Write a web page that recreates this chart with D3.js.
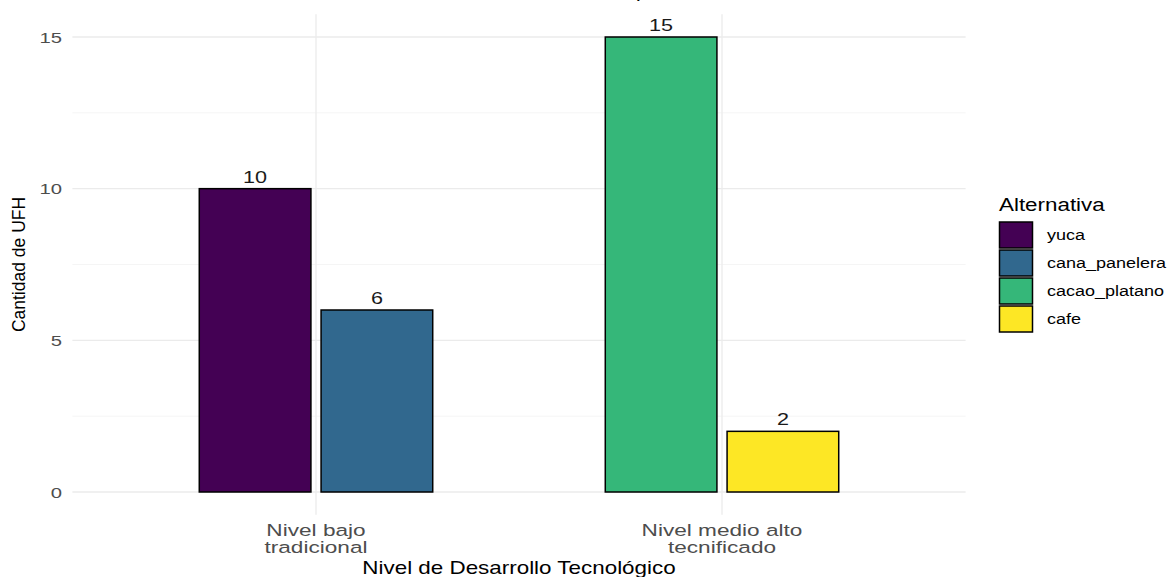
<!DOCTYPE html>
<html>
<head>
<meta charset="utf-8">
<script src="https://cdn.jsdelivr.net/npm/d3@7/dist/d3.min.js"></script>
<style>
  html, body { margin: 0; padding: 0; background: #fff; }
  svg { display: block; }
  text { font-family: "Liberation Sans", Arial, sans-serif; }
</style>
</head>
<body>
<svg id="chart" width="1167" height="577"></svg>
<script>
// ---- data ----
const niveles = ["Nivel bajo tradicional", "Nivel medio alto tecnificado"];
const nivelLines = [["Nivel bajo", "tradicional"], ["Nivel medio alto", "tecnificado"]];
const alternativas = ["yuca", "cana_panelera", "cacao_platano", "cafe"];
const barNivel = ["Nivel bajo tradicional", "Nivel bajo tradicional", "Nivel medio alto tecnificado", "Nivel medio alto tecnificado"];
const barAlternativa = ["yuca", "cana_panelera", "cacao_platano", "cafe"];
const barCantidad = [10, 6, 15, 2];
const barSlot = [0, 1, 0, 1];
const yTicks = [0, 5, 10, 15];
const yMinor = [2.5, 7.5, 12.5];
const colores = ["#440154", "#31688E", "#35B779", "#FDE725"];
const titulo = "Alternativa recomendada, Caquetá";
const xTitulo = "Nivel de Desarrollo Tecnológico";
const yTitulo = "Cantidad de UFH";
const legendTitulo = "Alternativa";

// ---- layout ----
const svg = d3.select("#chart");
const panel = { left: 72.4, right: 965.6 };
// discrete positions 1..n with 0.6 expansion
const x = d3.scaleLinear().domain([0.4, niveles.length + 0.6]).range([panel.left, panel.right]);
const y = d3.scaleLinear().domain([0, 15]).range([492, 37]);
const yTop = y(15.75), yBottom = y(-0.75);
const color = d3.scaleOrdinal().domain(alternativas).range(colores);
const dodge = 0.6, barW = 0.55 / 2;

function stext(g, str, px, py, size, sx, anchor, fill) {
  return g.append("text")
    .attr("transform", `translate(${px},${py}) scale(${sx},1)`)
    .attr("text-anchor", anchor)
    .attr("font-size", size)
    .attr("fill", fill)
    .text(str);
}

// grid
const grid = svg.append("g");
grid.selectAll("line.minor").data(yMinor).join("line")
  .attr("x1", panel.left).attr("x2", panel.right)
  .attr("y1", d => y(d)).attr("y2", d => y(d))
  .attr("stroke", "#F2F2F2").attr("stroke-width", 0.8);
grid.selectAll("line.major").data(yTicks).join("line")
  .attr("x1", panel.left).attr("x2", panel.right)
  .attr("y1", d => y(d)).attr("y2", d => y(d))
  .attr("stroke", "#EBEBEB").attr("stroke-width", 1.3);
grid.selectAll("line.vmajor").data(niveles).join("line")
  .attr("x1", (d, i) => x(i + 1)).attr("x2", (d, i) => x(i + 1))
  .attr("y1", yTop).attr("y2", yBottom)
  .attr("stroke", "#EBEBEB").attr("stroke-width", 1.3);

// bars
const bars = barCantidad.map((v, i) => {
  const ci = niveles.indexOf(barNivel[i]) + 1;
  const center = ci + (barSlot[i] - 0.5) * (dodge / 2);
  return { v, alt: barAlternativa[i], center };
});
svg.append("g").selectAll("rect").data(bars).join("rect")
  .attr("x", d => x(d.center - barW / 2))
  .attr("width", d => x(d.center + barW / 2) - x(d.center - barW / 2))
  .attr("y", d => y(d.v))
  .attr("height", d => y(0) - y(d.v))
  .attr("fill", d => color(d.alt))
  .attr("stroke", "#000").attr("stroke-width", 1.5);

// bar labels
const lab = svg.append("g");
bars.forEach(d => stext(lab, String(d.v), x(d.center), y(d.v) - 6, 16, 1.35, "middle", "#1a1a1a"));

// y axis ticks
const yax = svg.append("g");
yTicks.forEach(t => stext(yax, String(t), 62, y(t) + 5.5, 15, 1.35, "end", "#4D4D4D"));

// x axis ticks
const xax = svg.append("g");
nivelLines.forEach((lines, i) => {
  lines.forEach((ln, j) => stext(xax, ln, x(i + 1), 536 + j * 17, 17, 1.33, "middle", "#4D4D4D"));
});

// axis titles
stext(svg, xTitulo, x(1.5), 574, 18, 1.245, "middle", "#000");
svg.append("text")
  .attr("transform", `translate(25,${(yTop + yBottom) / 2}) rotate(-90)`)
  .attr("text-anchor", "middle").attr("font-size", 17.5).attr("fill", "#000")
  .text(yTitulo);

// title (mostly cut off at top, as in the reference)
stext(svg, titulo, x(1.5) - 6, -2, 17, 1.3, "middle", "#000");

// legend
const leg = svg.append("g");
stext(leg, legendTitulo, 999, 211, 17.5, 1.28, "start", "#000");
alternativas.forEach((a, i) => {
  const ky = 222 + i * 28;
  leg.append("rect").attr("x", 999.5).attr("y", ky).attr("width", 33).attr("height", 26)
    .attr("fill", color(a)).attr("stroke", "#000").attr("stroke-width", 1.5);
  stext(leg, a, 1047, ky + 18, 15, 1.2, "start", "#000");
});
</script>
</body>
</html>
